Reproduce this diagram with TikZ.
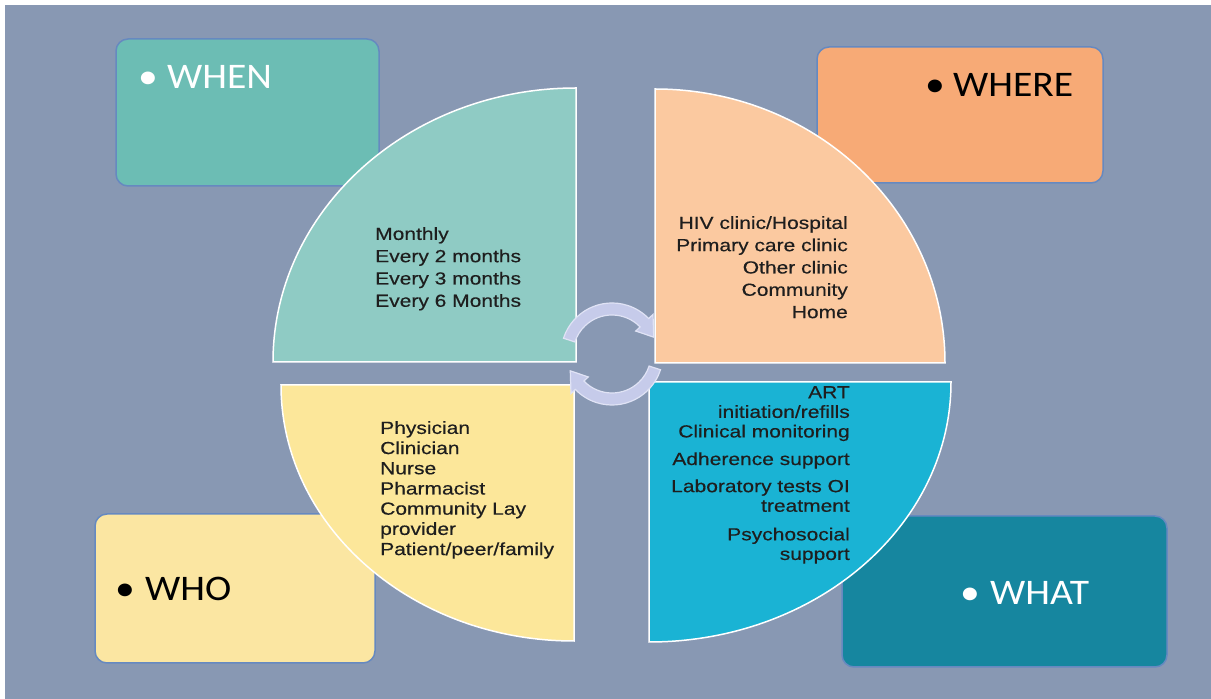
\documentclass[tikz,border=0pt]{standalone}
\usepackage{fontspec}
\newfontfamily\quarterfont[FakeStretch=1.2,FakeBold=0.4]{Liberation Sans}
\newfontfamily\labelfont[FakeStretch=1.1]{Carlito}
\definecolor{backdrop}{HTML}{8898B3}
\definecolor{boxline}{HTML}{6689C0}
\definecolor{whenbox}{HTML}{6CBDB4}
\definecolor{whenq}{HTML}{8FCBC4}
\definecolor{wherebox}{HTML}{F7AA76}
\definecolor{whereq}{HTML}{FBC9A0}
\definecolor{whobox}{HTML}{FBE6A2}
\definecolor{whoq}{HTML}{FCE79A}
\definecolor{whatbox}{HTML}{16869F}
\definecolor{whatq}{HTML}{1AB3D4}
\definecolor{arrowfill}{HTML}{C6CBEA}
\definecolor{arrowline}{HTML}{E0E3F5}
\definecolor{itemtext}{HTML}{1E1E1E}
\pgfdeclarelayer{background layer}
\pgfsetlayers{background layer,main}
\tikzstyle{box}=[rectangle,rounded corners=12pt,draw=boxline,line width=1.5pt,inner sep=0pt]
\tikzstyle{quarter}=[draw=white,line width=1.5pt]
\tikzstyle{cycle arrow}=[fill=arrowfill,draw=arrowline,line width=1.2pt]
\tikzstyle{items}=[inner sep=0pt,text=itemtext,font=\quarterfont\fontsize{17.5}{22.3}\selectfont]
\tikzstyle{heading}=[inner sep=0pt,anchor=base west,font=\labelfont\fontsize{36}{40}\selectfont]

\begin{document}
\begin{tikzpicture}[x=1pt,y=1pt]
			\useasboundingbox (0,0) rectangle (1211,699);
			\begin{pgfonlayer}{background layer}
				\fill[white] (0,0) rectangle (1211,699);
				\fill[backdrop] (5,0) rectangle (1211,694);
				\node (when) at (247.5,586.5) [box,fill=whenbox,minimum width=263pt,minimum height=147pt] {};
				\node (where) at (960,584) [box,fill=wherebox,minimum width=286pt,minimum height=136pt] {};
				\node (who) at (235,110.5) [box,fill=whobox,minimum width=280pt,minimum height=149pt] {};
				\node (what) at (1004.5,107.5) [box,fill=whatbox,minimum width=325pt,minimum height=151pt] {};
			\end{pgfonlayer}
			\node (whenhead) at (138,610) [heading,text=white] {\makebox[29pt][l]{•}WHEN};
			\node (wherehead) at (925,602) [heading,text=black] {\makebox[28pt][l]{•}WHERE};
			\node (whohead) at (115,98) [heading,text=black] {\makebox[30pt][l]{•}WHO};
			\node (whathead) at (960,94) [heading,text=white] {\makebox[30pt][l]{•}WHAT};
			% the four quarters
			\filldraw[quarter,fill=whenq] (576,337) -- (273,337) arc[start angle=180,end angle=90,x radius=303,y radius=274] -- cycle;
			\filldraw[quarter,fill=whereq] (655,336) -- (655,610) arc[start angle=90,end angle=0,x radius=290,y radius=274] -- cycle;
			\filldraw[quarter,fill=whoq] (574,314) -- (281,314) arc[start angle=180,end angle=270,x radius=293,y radius=256] -- cycle;
			\filldraw[quarter,fill=whatq] (649,317) -- (951,317) arc[start angle=0,end angle=-90,x radius=302,y radius=260] -- cycle;
			% cycle arrows
			\coordinate (hub) at (612,345);
			\filldraw[cycle arrow] ([shift={(162:51)}]hub) arc[start angle=162,end angle=44,radius=51] -- ([shift={(44:57)}]hub) -- ([shift={(22:45)}]hub) -- ([shift={(44:33)}]hub) -- ([shift={(44:39)}]hub) arc[start angle=44,end angle=162,radius=39] -- cycle;
			\filldraw[cycle arrow] ([shift={(-18:51)}]hub) arc[start angle=-18,end angle=-136,radius=51] -- ([shift={(-136:57)}]hub) -- ([shift={(-158:45)}]hub) -- ([shift={(-136:33)}]hub) -- ([shift={(-136:39)}]hub) arc[start angle=-136,end angle=-18,radius=39] -- cycle;
			\node (whenitems) at (375,472) [items,anchor=north west,align=left] {Monthly\\Every 2 months\\Every 3 months\\Every 6 Months};
			\node (whereitems) at (848,483) [items,anchor=north east,align=right] {HIV clinic/Hospital\\Primary care clinic\\Other clinic\\Community\\Home};
			\node (whoitems) at (380,278) [items,anchor=north west,align=left,font=\quarterfont\fontsize{17.5}{20.2}\selectfont] {Physician\\Clinician\\Nurse\\Pharmacist\\Community Lay\\provider\\Patient/peer/family};
			\node (whatitems) at (850,313) [items,anchor=north east,align=right,font=\quarterfont\fontsize{17.5}{19.6}\selectfont] {ART\\initiation/refills\\Clinical monitoring\\[8pt]Adherence support\\[7.5pt]Laboratory tests OI\\treatment\\[9pt]Psychosocial\\support};
		\end{tikzpicture}
\end{document}
